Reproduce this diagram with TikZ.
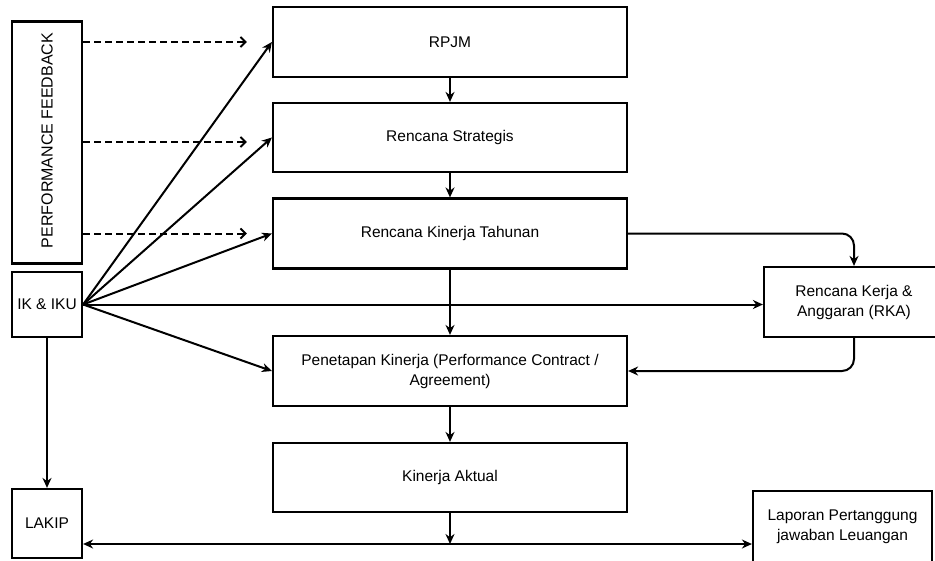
\documentclass[tikz,border=0pt]{standalone}
\usepackage{fontspec}
\setmainfont{Liberation Sans}
\usetikzlibrary{arrows.meta}
\begin{document}
\begin{tikzpicture}[x=1pt,y=-1pt,
  box/.style={draw, line width=2.2pt, inner sep=0pt, align=center, font=\fontsize{15.5}{20}\selectfont},
  lbl/.style={font=\fontsize{16}{20}\selectfont},
  arr/.style={line width=2pt, -{Stealth[length=10pt,width=9pt]}},
  darr/.style={line width=2pt, dash pattern=on 7pt off 4pt, -{Straight Barb[length=5pt,width=10pt]}},
]
\useasboundingbox (0,0) rectangle (935,560);
\fill[white] (0,0) rectangle (935,560);

\node[box, minimum width=70pt, minimum height=242pt] (fb) at (47,142.5) {};
\node[lbl, rotate=90] (fbt) at (47,140.5) {PERFORMANCE FEEDBACK};
\node[box, minimum width=70pt, minimum height=65pt] (ik) at (47,304.5) {IK \& IKU};
\node[box, minimum width=70pt, minimum height=69pt] (lakip) at (47,523.5) {LAKIP};

\node[box, minimum width=354pt, minimum height=70pt] (rpjm) at (450,42) {RPJM};
\node[box, minimum width=354pt, minimum height=69pt] (rs) at (450,137.5) {Rencana Strategis};
\node[box, minimum width=354pt, minimum height=70pt] (rkt) at (450,233.5) {Rencana Kinerja Tahunan};
\node[box, minimum width=354pt, minimum height=70pt] (pk) at (450,371) {Penetapan Kinerja (Performance Contract /\\Agreement)};
\node[box, minimum width=354pt, minimum height=69pt] (ka) at (450,477.5) {Kinerja Aktual};

\node[box, minimum width=180pt, minimum height=70pt] (rka) at (854,302) {Rencana Kerja \&\\Anggaran (RKA)};
\node[box, minimum width=179pt, minimum height=72pt] (lap) at (842.5,527) {Laporan Pertanggung\\jawaban Leuangan};

% dashed feedback arrows
\draw[darr] (fb.east |- rpjm.west) -- ([xshift=-25pt]rpjm.west);
\draw[darr] (fb.east |- 0,142) -- ([xshift=-25pt,yshift=-4.5pt]rs.west);
\draw[darr] (fb.east |- rkt.west) -- ([xshift=-25pt]rkt.west);

% IK & IKU arrows
\draw[arr] (ik.east) -- (rpjm.west);
\draw[arr] (ik.east) -- (rs.west);
\draw[arr] (ik.east) -- (rkt.west);
\draw[arr] (ik.east) -- (ik.east -| rka.west);
\draw[arr] (ik.east) -- (pk.west);
\draw[arr] (ik.south) -- (lakip.north);

% main chain
\draw[arr] (rpjm.south) -- (rs.north);
\draw[arr] (rs.south) -- (rkt.north);
\draw[arr] (rkt.south) -- (pk.north);
\draw[arr] (pk.south) -- (ka.north);

% RKA loop
\draw[arr, rounded corners=12pt] (rkt.east) -| (rka.north);
\draw[arr, rounded corners=12pt] (rka.south) |- (pk.east);

% bottom
\coordinate (bot) at ([yshift=-20.5pt]lakip.east);
\draw[arr] (ka.south) -- (ka.south |- bot);
\draw[line width=2pt, {Stealth[length=10pt,width=9pt]}-{Stealth[length=10pt,width=9pt]}] (bot) -- (bot -| lap.west);
\end{tikzpicture}
\end{document}
